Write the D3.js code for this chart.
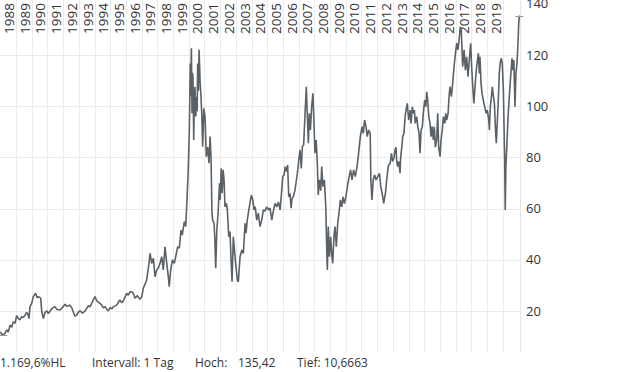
<!DOCTYPE html>
<html>
<head>
<meta charset="utf-8">
<script src="https://cdn.jsdelivr.net/npm/d3@7"></script>
<style>
    body { margin: 0; background: #fff; }
    svg text { font-family: "Open Sans", "Noto Sans", sans-serif; fill: #333; }
</style>
</head>
<body>
<div id="chart"></div>
<script>
// decimal year of each sample and its price
var years = [
    1988.00, 1988.08, 1988.19, 1988.30, 1988.41, 1988.51, 1988.62, 1988.73, 1988.83, 1988.94,
    1989.04, 1989.15, 1989.25, 1989.36, 1989.46, 1989.57, 1989.68, 1989.76, 1989.83, 1989.89,
    1990.00, 1990.10, 1990.25, 1990.34, 1990.42, 1990.57, 1990.64, 1990.74, 1990.85, 1990.96,
    1991.06, 1991.17, 1991.29, 1991.48, 1991.61, 1991.80, 1991.93, 1992.12, 1992.25, 1992.44,
    1992.57, 1992.65, 1992.76, 1992.87, 1992.97, 1993.08, 1993.24, 1993.40, 1993.50, 1993.61,
    1993.71, 1993.82, 1993.92, 1994.03, 1994.14, 1994.25, 1994.35, 1994.46, 1994.56, 1994.67,
    1994.78, 1994.88, 1994.99, 1995.10, 1995.20, 1995.31, 1995.41, 1995.51, 1995.62, 1995.73,
    1995.83, 1995.94, 1996.05, 1996.15, 1996.26, 1996.37, 1996.47, 1996.58, 1996.71, 1996.90,
    1997.01, 1997.11, 1997.32, 1997.47, 1997.54, 1997.64, 1997.75, 1997.85, 1997.96, 1998.06,
    1998.17, 1998.28, 1998.38, 1998.49, 1998.60, 1998.70, 1998.76, 1998.85, 1998.96, 1999.08,
    1999.17, 1999.30, 1999.40, 1999.51, 1999.59, 1999.72, 1999.81, 1999.89, 1999.97, 2000.04,
    2000.07, 2000.10, 2000.13, 2000.17, 2000.21, 2000.24, 2000.27, 2000.32, 2000.36, 2000.40,
    2000.45, 2000.51, 2000.54, 2000.57, 2000.62, 2000.66, 2000.72, 2000.78, 2000.83, 2000.89,
    2000.96, 2001.04, 2001.12, 2001.21, 2001.29, 2001.36, 2001.42, 2001.48, 2001.53, 2001.61,
    2001.66, 2001.72, 2001.79, 2001.87, 2001.96, 2002.00, 2002.07, 2002.13, 2002.19, 2002.25,
    2002.31, 2002.40, 2002.46, 2002.55, 2002.63, 2002.69, 2002.76, 2002.84, 2002.93, 2003.01,
    2003.10, 2003.16, 2003.27, 2003.38, 2003.48, 2003.59, 2003.65, 2003.73, 2003.86, 2003.99,
    2004.08, 2004.16, 2004.24, 2004.33, 2004.43, 2004.54, 2004.65, 2004.75, 2004.86, 2004.97,
    2005.07, 2005.18, 2005.29, 2005.39, 2005.50, 2005.61, 2005.71, 2005.82, 2005.88, 2005.99,
    2006.07, 2006.15, 2006.24, 2006.30, 2006.37, 2006.45, 2006.52, 2006.58, 2006.66, 2006.77,
    2006.83, 2006.92, 2007.01, 2007.09, 2007.17, 2007.24, 2007.32, 2007.39, 2007.49, 2007.55,
    2007.62, 2007.68, 2007.75, 2007.83, 2007.91, 2007.97, 2008.04, 2008.12, 2008.19, 2008.25,
    2008.32, 2008.41, 2008.47, 2008.55, 2008.64, 2008.73, 2008.79, 2008.83, 2008.89, 2008.96,
    2009.04, 2009.11, 2009.17, 2009.25, 2009.32, 2009.40, 2009.49, 2009.57, 2009.66, 2009.75,
    2009.83, 2009.92, 2010.01, 2010.14, 2010.22, 2010.31, 2010.40, 2010.50, 2010.61, 2010.72,
    2010.82, 2010.93, 2011.04, 2011.12, 2011.20, 2011.29, 2011.37, 2011.46, 2011.56, 2011.60,
    2011.67, 2011.75, 2011.84, 2011.93, 2012.04, 2012.15, 2012.23, 2012.32, 2012.42, 2012.53,
    2012.61, 2012.72, 2012.83, 2012.91, 2012.99, 2013.08, 2013.14, 2013.20, 2013.25, 2013.31,
    2013.38, 2013.46, 2013.50, 2013.57, 2013.63, 2013.71, 2013.78, 2013.84, 2013.92, 2014.01,
    2014.10, 2014.16, 2014.24, 2014.31, 2014.37, 2014.43, 2014.52, 2014.59, 2014.67, 2014.73,
    2014.80, 2014.88, 2014.94, 2015.03, 2015.10, 2015.16, 2015.22, 2015.29, 2015.37, 2015.43,
    2015.50, 2015.58, 2015.64, 2015.71, 2015.79, 2015.86, 2015.92, 2016.01, 2016.07, 2016.15,
    2016.22, 2016.31, 2016.37, 2016.43, 2016.52, 2016.58, 2016.64, 2016.73, 2016.81, 2016.90,
    2016.99, 2017.07, 2017.15, 2017.24, 2017.30, 2017.36, 2017.39, 2017.45, 2017.54, 2017.62,
    2017.70, 2017.79, 2017.87, 2017.96, 2018.02, 2018.09, 2018.16, 2018.28, 2018.34, 2018.45,
    2018.51, 2018.55, 2018.62, 2018.68, 2018.76, 2018.85, 2018.94, 2019.02, 2019.11, 2019.15,
    2019.21, 2019.28, 2019.34, 2019.41, 2019.47, 2019.53, 2019.59, 2019.66, 2019.72, 2019.78,
    2019.85, 2019.91, 2019.97, 2020.04, 2020.08, 2020.12, 2020.16, 2020.20, 2020.27, 2020.33,
    2020.39, 2020.46, 2020.52, 2020.59, 2020.65, 2020.71, 2020.78, 2020.84, 2020.91, 2020.97,
    2021.02, 2021.06
];

var prices = [
    11.9, 11.0, 10.67, 11.3, 12.6, 11.8, 14.5, 13.6, 15.8, 15.2,
    18.2, 17.0, 16.5, 17.8, 17.4, 18.3, 19.5, 18.6, 17.1, 21.7,
    23.0, 25.6, 26.9, 25.2, 25.6, 25.0, 19.7, 17.1, 19.5, 20.0,
    19.0, 20.0, 21.0, 21.7, 20.6, 20.4, 21.2, 22.6, 21.8, 22.3,
    21.0, 19.5, 18.0, 18.4, 19.6, 20.0, 19.2, 20.0, 21.0, 22.1,
    21.6, 23.0, 24.3, 25.6, 24.0, 23.4, 23.0, 22.3, 21.2, 21.7,
    20.6, 20.0, 21.3, 20.8, 21.7, 22.0, 22.3, 23.3, 24.3, 23.2,
    23.9, 25.4, 26.9, 26.2, 27.5, 27.5, 26.9, 25.0, 26.0, 24.6,
    25.6, 28.9, 32.1, 38.6, 42.5, 38.6, 40.6, 33.4, 36.0, 36.7,
    38.6, 41.2, 36.0, 45.1, 38.6, 33.4, 29.5, 36.0, 40.0, 38.6,
    41.2, 45.1, 44.5, 51.6, 49.7, 54.9, 53.0, 63.4, 75.1, 90.7,
    104.0, 116.7, 104.0, 122.6, 97.2, 113.0, 111.5, 86.8, 104.0, 107.6,
    96.0, 103.7, 98.0, 116.7, 106.0, 122.0, 110.2, 104.0, 97.2, 84.2,
    99.1, 95.9, 80.3, 84.0, 77.7, 88.1, 80.3, 58.2, 55.5, 54.3,
    49.0, 36.7, 51.6, 58.2, 69.9, 63.4, 75.7, 66.0, 75.1, 71.2,
    60.7, 62.0, 59.5, 49.0, 51.0, 41.2, 31.4, 49.0, 42.5, 37.3,
    32.1, 31.4, 41.2, 43.8, 42.5, 54.3, 50.4, 55.5, 60.7, 65.3,
    63.4, 59.5, 60.7, 55.5, 58.2, 53.0, 55.5, 59.5, 59.0, 60.7,
    59.5, 60.2, 55.5, 59.0, 62.0, 60.7, 62.6, 59.5, 63.9, 72.5,
    73.1, 76.4, 74.5, 77.0, 64.6, 66.0, 60.2, 63.9, 64.6, 67.2,
    69.9, 73.8, 79.0, 82.9, 75.7, 84.2, 84.9, 94.6, 107.6, 97.2,
    85.5, 97.2, 90.7, 99.8, 105.0, 94.6, 81.6, 86.8, 77.7, 65.3,
    71.2, 67.0, 76.4, 68.6, 71.2, 60.7, 43.8, 36.0, 53.0, 41.2,
    49.0, 42.0, 38.6, 49.0, 53.0, 45.1, 54.3, 58.2, 63.4, 60.7,
    64.6, 62.0, 64.6, 69.9, 72.5, 75.1, 71.2, 75.1, 72.5, 76.4,
    81.6, 88.1, 92.0, 89.4, 94.6, 92.0, 88.1, 90.7, 89.4, 71.2,
    63.4, 71.2, 73.1, 71.2, 72.5, 73.8, 68.6, 66.0, 62.0, 66.0,
    71.2, 77.0, 77.6, 81.6, 78.4, 80.0, 82.9, 84.0, 78.4, 76.4,
    78.4, 73.8, 80.0, 84.0, 88.1, 89.4, 95.9, 98.5, 101.1, 94.6,
    98.5, 93.3, 99.8, 97.2, 98.5, 93.3, 95.9, 92.0, 89.4, 81.6,
    90.7, 92.0, 97.2, 102.4, 99.8, 105.6, 102.4, 95.9, 93.3, 88.1,
    92.0, 86.8, 92.0, 84.0, 86.8, 97.2, 84.0, 80.3, 86.8, 90.7,
    95.9, 93.3, 97.2, 94.6, 97.2, 103.7, 107.6, 103.7, 108.9, 115.4,
    120.7, 124.6, 122.0, 127.2, 131.0, 129.8, 124.6, 115.4, 122.0, 114.1,
    119.3, 111.5, 118.0, 124.6, 115.4, 107.6, 101.1, 111.5, 115.4, 120.7,
    112.8, 119.3, 108.9, 105.0, 102.4, 99.8, 97.2, 98.5, 94.6, 90.7,
    99.8, 103.7, 107.6, 103.7, 101.1, 92.0, 85.5, 94.6, 102.4, 112.8,
    117.4, 118.7, 116.7, 106.3, 93.3, 80.3, 59.5, 76.4, 85.5, 94.6,
    101.1, 107.6, 112.8, 118.7, 114.1, 118.0, 99.8, 112.8, 116.7, 124.6,
    132.3, 135.42
];

var yearLabels = d3.range(1988, 2020);
var priceTicks = [20, 40, 60, 80, 100, 120, 140];
var footer = [
    { x: 0, text: "1.169,6%HL" },
    { x: 92, text: "Intervall: 1 Tag" },
    { x: 195, text: "Hoch:" },
    { x: 238, text: "135,42" },
    { x: 297, text: "Tief: 10,6663" }
];

var width = 620,
    height = 372,
    plotRight = 520,
    plotBottom = 352;

var svg = d3.select("#chart").append("svg")
    .attr("width", width)
    .attr("height", height)

var xScale = d3.scaleLinear()
    .domain([1987.98, 2021.1])
    .range([0, plotRight])

var yScale = d3.scaleLinear()
    .domain([3.98, 141.48])
    .range([plotBottom, 0])

// grid
svg.append("g")
    .selectAll("line")
    .data(d3.range(1989, 2021))
    .enter().append("line")
    .attr("x1", function (d) { return Math.round(xScale(d)) + 0.5 })
    .attr("x2", function (d) { return Math.round(xScale(d)) + 0.5 })
    .attr("y1", 0)
    .attr("y2", plotBottom)
    .attr("stroke", "#ebebeb")

svg.append("g")
    .selectAll("line")
    .data(priceTicks.slice(0, -1))
    .enter().append("line")
    .attr("x1", 0)
    .attr("x2", plotRight)
    .attr("y1", function (d) { return Math.round(yScale(d)) + 0.5 })
    .attr("y2", function (d) { return Math.round(yScale(d)) + 0.5 })
    .attr("stroke", "#ebebeb")

svg.append("line")
    .attr("x1", plotRight + 0.5)
    .attr("x2", plotRight + 0.5)
    .attr("y1", 0)
    .attr("y2", plotBottom)
    .attr("stroke", "#e6e6e6")

// year labels, written upward just left of the next year's gridline
svg.append("g")
    .selectAll("text")
    .data(yearLabels)
    .enter().append("text")
    .attr("transform", function (d) {
        return "translate(" + (xScale(d + 1) - 2) + ",3) rotate(-90)"
    })
    .attr("text-anchor", "end")
    .style("font-size", "13.5px")
    .text(function (d) { return d })

svg.append("g")
    .selectAll("text")
    .data(priceTicks)
    .enter().append("text")
    .attr("x", 526)
    .attr("y", function (d) { return yScale(d) })
    .attr("dy", "0.35em")
    .style("font-size", "13px")
    .text(function (d) { return d })

var line = d3.line()
    .x(function (d, i) { return xScale(years[i]) })
    .y(function (d) { return yScale(d) })

svg.append("path")
    .datum(prices)
    .attr("d", line)
    .attr("fill", "none")
    .attr("stroke", "#5a6167")
    .attr("stroke-width", 1.6)
    .attr("stroke-linejoin", "bevel")

// high / low markers
var hiIndex = d3.maxIndex(prices),
    loIndex = d3.minIndex(prices);

[hiIndex, loIndex].forEach(function (i) {
    var cx = xScale(years[i]),
        cy = Math.round(yScale(prices[i])) + 0.5;
    svg.append("line")
        .attr("x1", Math.max(0, cx - 4))
        .attr("x2", cx + 4)
        .attr("y1", cy)
        .attr("y2", cy)
        .attr("stroke", "#999")
})

svg.append("g")
    .selectAll("text")
    .data(footer)
    .enter().append("text")
    .attr("x", function (d) { return d.x })
    .attr("y", 367)
    .style("font-size", "12px")
    .text(function (d) { return d.text })
</script>
</body>
</html>
